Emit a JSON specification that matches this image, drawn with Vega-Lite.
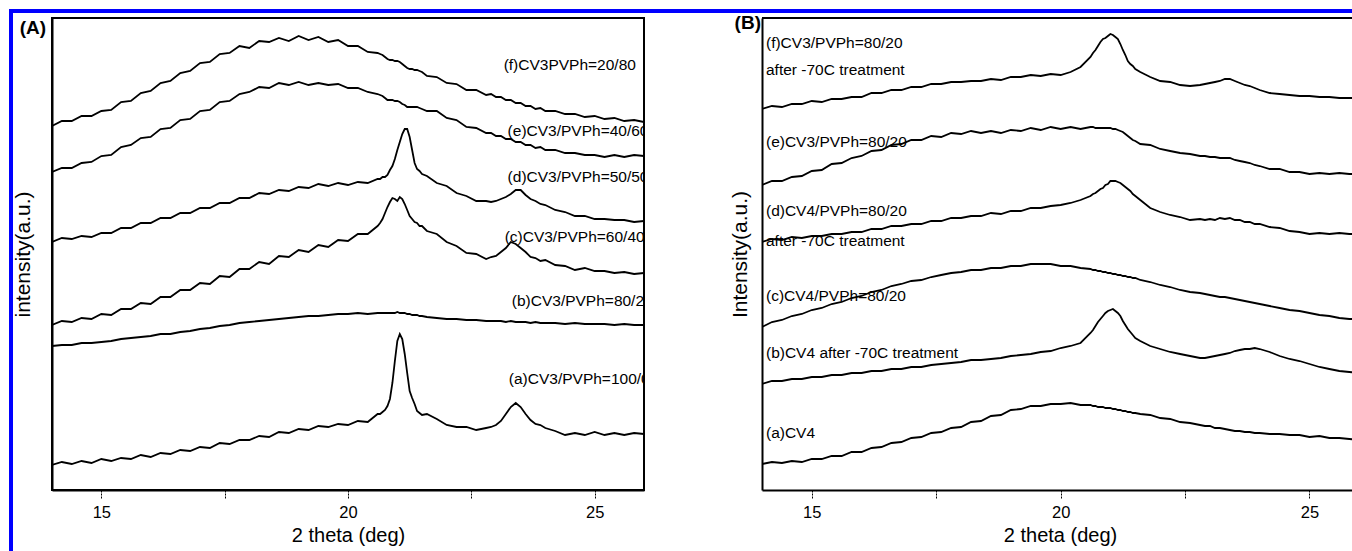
{
 "$schema": "https://vega.github.io/schema/vega-lite/v6.json",
 "background": "white",
 "padding": {"left": 8, "top": 8, "right": 0, "bottom": 0},
 "config": {
  "font": "Liberation Sans",
  "view": {"stroke": null},
  "axis": {"grid": false, "labelColor": "black", "titleColor": "black", "domainColor": "black", "tickColor": "black", "labelFont": "Liberation Sans", "titleFont": "Liberation Sans", "titleFontWeight": "normal"}
 },
 "datasets": {
  "A": [
   {"x":14.0,"a":25,"b":144,"c":165,"d":248,"e":318,"f":364},
   {"x":14.2,"a":28,"b":145,"c":169,"d":252,"e":322,"f":369},
   {"x":14.4,"a":26,"b":145,"c":168,"d":251,"e":322,"f":369},
   {"x":14.6,"a":29,"b":147,"c":172,"d":254,"e":327,"f":374},
   {"x":14.8,"a":27,"b":147,"c":171,"d":253,"e":328,"f":374},
   {"x":15.0,"a":31,"b":148,"c":176,"d":257,"e":334,"f":379},
   {"x":15.2,"a":29,"b":149,"c":175,"d":257,"e":335,"f":380},
   {"x":15.4,"a":32,"b":151,"c":181,"d":262,"e":343,"f":388},
   {"x":15.6,"a":31,"b":152,"c":181,"d":262,"e":345,"f":389},
   {"x":15.8,"a":35,"b":153,"c":187,"d":267,"e":352,"f":397},
   {"x":16.0,"a":33,"b":154,"c":186,"d":267,"e":353,"f":399},
   {"x":16.2,"a":37,"b":156,"c":193,"d":272,"e":361,"f":407},
   {"x":16.4,"a":36,"b":156,"c":193,"d":272,"e":362,"f":409},
   {"x":16.6,"a":40,"b":158,"c":200,"d":277,"e":370,"f":417},
   {"x":16.8,"a":39,"b":159,"c":200,"d":277,"e":371,"f":419},
   {"x":17.0,"a":43,"b":161,"c":207,"d":282,"e":379,"f":427},
   {"x":17.2,"a":42,"b":162,"c":206,"d":282,"e":380,"f":428},
   {"x":17.4,"a":47,"b":164,"c":214,"d":287,"e":388,"f":436},
   {"x":17.6,"a":46,"b":165,"c":213,"d":287,"e":389,"f":437},
   {"x":17.8,"a":50,"b":167,"c":221,"d":292,"e":396,"f":444},
   {"x":18.0,"a":50,"b":168,"c":221,"d":292,"e":398,"f":442},
   {"x":18.2,"a":54,"b":169,"c":228,"d":297,"e":403,"f":449},
   {"x":18.4,"a":53,"b":170,"c":226,"d":296,"e":402,"f":448},
   {"x":18.6,"a":58,"b":171,"c":234,"d":300,"e":407,"f":452},
   {"x":18.8,"a":57,"b":172,"c":233,"d":299,"e":405,"f":449},
   {"x":19.0,"a":61,"b":173,"c":240,"d":303,"e":408,"f":454},
   {"x":19.2,"a":60,"b":174,"c":238,"d":302,"e":405,"f":450},
   {"x":19.4,"a":64,"b":174,"c":245,"d":306,"e":407,"f":453},
   {"x":19.6,"a":63,"b":175,"c":243,"d":304,"e":405,"f":448},
   {"x":19.8,"a":66,"b":176,"c":250,"d":307,"e":406,"f":450},
   {"x":20.0,"a":65,"b":176,"c":249,"d":305,"e":402,"f":444},
   {"x":20.2,"a":69,"b":177,"c":256,"d":308,"e":402,"f":444},
   {"x":20.4,"a":68,"b":176,"c":256,"d":307,"e":398,"f":438},
   {"x":20.6,"a":76,"b":177,"c":264,"d":311,"e":396,"f":437},
   {"x":20.65,"a":76,"b":177,"c":267,"d":311,"e":395,"f":436},
   {"x":20.7,"a":78,"b":177,"c":271,"d":313,"e":394,"f":435},
   {"x":20.75,"a":80,"b":177,"c":277,"d":313,"e":392,"f":433},
   {"x":20.8,"a":84,"b":177,"c":283,"d":315,"e":390,"f":431},
   {"x":20.85,"a":91,"b":177,"c":288,"d":320,"e":390,"f":430},
   {"x":20.9,"a":107,"b":177,"c":292,"d":324,"e":390,"f":430},
   {"x":20.95,"a":129,"b":177,"c":291,"d":331,"e":389,"f":429},
   {"x":21.0,"a":149,"b":178,"c":289,"d":340,"e":389,"f":429},
   {"x":21.05,"a":156,"b":177,"c":293,"d":348,"e":388,"f":428},
   {"x":21.1,"a":151,"b":177,"c":291,"d":356,"e":386,"f":426},
   {"x":21.15,"a":136,"b":177,"c":286,"d":361,"e":385,"f":424},
   {"x":21.2,"a":117,"b":176,"c":280,"d":361,"e":383,"f":422},
   {"x":21.25,"a":99,"b":176,"c":274,"d":353,"e":383,"f":421},
   {"x":21.3,"a":92,"b":175,"c":271,"d":340,"e":383,"f":421},
   {"x":21.35,"a":86,"b":175,"c":268,"d":327,"e":383,"f":420},
   {"x":21.4,"a":79,"b":175,"c":267,"d":321,"e":383,"f":420},
   {"x":21.45,"a":77,"b":174,"c":264,"d":319,"e":382,"f":419},
   {"x":21.5,"a":75,"b":174,"c":264,"d":316,"e":381,"f":418},
   {"x":21.6,"a":76,"b":173,"c":259,"d":314,"e":379,"f":414},
   {"x":21.8,"a":71,"b":172,"c":256,"d":307,"e":379,"f":413},
   {"x":22.0,"a":65,"b":171,"c":248,"d":304,"e":372,"f":407},
   {"x":22.2,"a":63,"b":171,"c":244,"d":297,"e":370,"f":406},
   {"x":22.4,"a":63,"b":170,"c":237,"d":294,"e":363,"f":400},
   {"x":22.6,"a":60,"b":170,"c":236,"d":289,"e":362,"f":400},
   {"x":22.8,"a":62,"b":169,"c":231,"d":289,"e":357,"f":395},
   {"x":22.9,"a":63,"b":169,"c":233,"d":288,"e":357,"f":396},
   {"x":23.0,"a":65,"b":169,"c":234,"d":289,"e":354,"f":393},
   {"x":23.1,"a":69,"b":169,"c":238,"d":291,"e":354,"f":393},
   {"x":23.2,"a":76,"b":168,"c":242,"d":293,"e":351,"f":390},
   {"x":23.3,"a":83,"b":169,"c":248,"d":296,"e":351,"f":390},
   {"x":23.4,"a":87,"b":168,"c":246,"d":300,"e":348,"f":387},
   {"x":23.5,"a":83,"b":168,"c":242,"d":300,"e":348,"f":387},
   {"x":23.6,"a":76,"b":168,"c":238,"d":295,"e":345,"f":384},
   {"x":23.7,"a":70,"b":167,"c":233,"d":291,"e":345,"f":384},
   {"x":23.8,"a":66,"b":168,"c":232,"d":289,"e":342,"f":381},
   {"x":23.9,"a":65,"b":167,"c":229,"d":286,"e":343,"f":382},
   {"x":24.0,"a":62,"b":167,"c":230,"d":285,"e":340,"f":379},
   {"x":24.2,"a":59,"b":167,"c":225,"d":280,"e":340,"f":379},
   {"x":24.4,"a":55,"b":166,"c":224,"d":278,"e":337,"f":376},
   {"x":24.6,"a":57,"b":167,"c":220,"d":274,"e":337,"f":376},
   {"x":24.8,"a":55,"b":166,"c":222,"d":274,"e":335,"f":373},
   {"x":25.0,"a":58,"b":166,"c":219,"d":271,"e":335,"f":374},
   {"x":25.2,"a":55,"b":166,"c":219,"d":271,"e":333,"f":371},
   {"x":25.4,"a":57,"b":165,"c":217,"d":270,"e":335,"f":372},
   {"x":25.6,"a":55,"b":166,"c":218,"d":270,"e":333,"f":369},
   {"x":25.8,"a":57,"b":165,"c":216,"d":268,"e":335,"f":370},
   {"x":26.0,"a":56,"b":165,"c":217,"d":269,"e":334,"f":368}
  ],
  "B": [
   {"x":14.0,"a":26,"b":106,"c":163,"d":248,"e":305,"f":381},
   {"x":14.2,"a":28,"b":109,"c":168,"d":251,"e":309,"f":384},
   {"x":14.4,"a":27,"b":109,"c":170,"d":250,"e":309,"f":383},
   {"x":14.6,"a":29,"b":111,"c":174,"d":253,"e":313,"f":386},
   {"x":14.8,"a":28,"b":111,"c":176,"d":252,"e":314,"f":386},
   {"x":15.0,"a":31,"b":113,"c":180,"d":254,"e":319,"f":389},
   {"x":15.2,"a":31,"b":113,"c":182,"d":254,"e":320,"f":388},
   {"x":15.4,"a":34,"b":115,"c":186,"d":256,"e":326,"f":391},
   {"x":15.6,"a":34,"b":115,"c":188,"d":256,"e":327,"f":391},
   {"x":15.8,"a":38,"b":117,"c":192,"d":258,"e":332,"f":393},
   {"x":16.0,"a":38,"b":117,"c":194,"d":258,"e":334,"f":393},
   {"x":16.2,"a":42,"b":119,"c":198,"d":261,"e":339,"f":397},
   {"x":16.4,"a":43,"b":119,"c":200,"d":261,"e":340,"f":397},
   {"x":16.6,"a":47,"b":121,"c":204,"d":264,"e":345,"f":400},
   {"x":16.8,"a":48,"b":121,"c":206,"d":264,"e":346,"f":400},
   {"x":17.0,"a":52,"b":123,"c":209,"d":266,"e":350,"f":403},
   {"x":17.2,"a":53,"b":123,"c":210,"d":266,"e":350,"f":403},
   {"x":17.4,"a":57,"b":125,"c":213,"d":269,"e":354,"f":406},
   {"x":17.6,"a":58,"b":126,"c":215,"d":269,"e":353,"f":406},
   {"x":17.8,"a":62,"b":127,"c":217,"d":272,"e":357,"f":408},
   {"x":18.0,"a":63,"b":128,"c":218,"d":272,"e":356,"f":408},
   {"x":18.2,"a":68,"b":130,"c":220,"d":274,"e":359,"f":409},
   {"x":18.4,"a":69,"b":130,"c":220,"d":274,"e":357,"f":409},
   {"x":18.6,"a":74,"b":131,"c":222,"d":277,"e":359,"f":411},
   {"x":18.8,"a":75,"b":132,"c":222,"d":276,"e":357,"f":410},
   {"x":19.0,"a":80,"b":134,"c":224,"d":279,"e":360,"f":413},
   {"x":19.2,"a":81,"b":135,"c":224,"d":279,"e":359,"f":413},
   {"x":19.4,"a":84,"b":136,"c":226,"d":282,"e":362,"f":415},
   {"x":19.6,"a":84,"b":138,"c":226,"d":282,"e":360,"f":414},
   {"x":19.8,"a":86,"b":139,"c":226,"d":284,"e":363,"f":416},
   {"x":20.0,"a":86,"b":142,"c":224,"d":285,"e":361,"f":415},
   {"x":20.2,"a":87,"b":144,"c":224,"d":287,"e":363,"f":418},
   {"x":20.4,"a":85,"b":147,"c":222,"d":290,"e":361,"f":423},
   {"x":20.6,"a":85,"b":157,"c":221,"d":294,"e":363,"f":433},
   {"x":20.65,"a":84,"b":160,"c":220,"d":296,"e":363,"f":437},
   {"x":20.7,"a":84,"b":164,"c":220,"d":297,"e":362,"f":440},
   {"x":20.75,"a":83,"b":168,"c":219,"d":299,"e":362,"f":444},
   {"x":20.8,"a":83,"b":171,"c":219,"d":301,"e":362,"f":448},
   {"x":20.85,"a":83,"b":174,"c":218,"d":302,"e":362,"f":451},
   {"x":20.9,"a":82,"b":177,"c":218,"d":305,"e":362,"f":452},
   {"x":20.95,"a":82,"b":179,"c":217,"d":306,"e":362,"f":454},
   {"x":21.0,"a":82,"b":180,"c":217,"d":309,"e":362,"f":456},
   {"x":21.05,"a":81,"b":181,"c":216,"d":309,"e":361,"f":455},
   {"x":21.1,"a":81,"b":179,"c":216,"d":309,"e":361,"f":453},
   {"x":21.15,"a":80,"b":177,"c":215,"d":308,"e":360,"f":451},
   {"x":21.2,"a":80,"b":174,"c":215,"d":307,"e":359,"f":446},
   {"x":21.25,"a":79,"b":169,"c":214,"d":305,"e":358,"f":440},
   {"x":21.3,"a":79,"b":165,"c":214,"d":303,"e":356,"f":435},
   {"x":21.35,"a":78,"b":161,"c":213,"d":301,"e":354,"f":429},
   {"x":21.4,"a":78,"b":158,"c":213,"d":299,"e":352,"f":426},
   {"x":21.45,"a":77,"b":155,"c":212,"d":296,"e":350,"f":424},
   {"x":21.5,"a":77,"b":152,"c":212,"d":294,"e":349,"f":421},
   {"x":21.6,"a":76,"b":149,"c":210,"d":290,"e":346,"f":418},
   {"x":21.8,"a":75,"b":144,"c":208,"d":282,"e":345,"f":413},
   {"x":22.0,"a":72,"b":141,"c":205,"d":278,"e":341,"f":409},
   {"x":22.2,"a":71,"b":138,"c":203,"d":275,"e":339,"f":408},
   {"x":22.4,"a":68,"b":136,"c":200,"d":273,"e":337,"f":405},
   {"x":22.6,"a":67,"b":134,"c":198,"d":270,"e":336,"f":404},
   {"x":22.8,"a":65,"b":132,"c":197,"d":271,"e":334,"f":405},
   {"x":22.9,"a":64,"b":132,"c":196,"d":270,"e":334,"f":406},
   {"x":23.0,"a":64,"b":133,"c":195,"d":271,"e":333,"f":407},
   {"x":23.1,"a":62,"b":134,"c":194,"d":270,"e":333,"f":408},
   {"x":23.2,"a":62,"b":135,"c":193,"d":272,"e":332,"f":409},
   {"x":23.3,"a":61,"b":136,"c":193,"d":271,"e":332,"f":411},
   {"x":23.4,"a":60,"b":137,"c":192,"d":272,"e":332,"f":411},
   {"x":23.5,"a":59,"b":139,"c":191,"d":270,"e":330,"f":409},
   {"x":23.6,"a":59,"b":140,"c":190,"d":270,"e":329,"f":407},
   {"x":23.7,"a":58,"b":141,"c":189,"d":268,"e":328,"f":405},
   {"x":23.8,"a":58,"b":141,"c":188,"d":268,"e":327,"f":404},
   {"x":23.9,"a":57,"b":142,"c":187,"d":266,"e":325,"f":402},
   {"x":24.0,"a":57,"b":141,"c":186,"d":266,"e":324,"f":400},
   {"x":24.2,"a":56,"b":138,"c":184,"d":263,"e":321,"f":397},
   {"x":24.4,"a":56,"b":134,"c":182,"d":262,"e":321,"f":396},
   {"x":24.6,"a":55,"b":131,"c":180,"d":259,"e":318,"f":395},
   {"x":24.8,"a":55,"b":129,"c":179,"d":258,"e":318,"f":394},
   {"x":25.0,"a":53,"b":126,"c":177,"d":256,"e":316,"f":394},
   {"x":25.2,"a":54,"b":123,"c":175,"d":257,"e":317,"f":393},
   {"x":25.4,"a":52,"b":121,"c":174,"d":256,"e":316,"f":393},
   {"x":25.6,"a":52,"b":119,"c":172,"d":257,"e":317,"f":392},
   {"x":25.8,"a":51,"b":118,"c":171,"d":256,"e":316,"f":392},
   {"x":26.0,"a":50,"b":117,"c":171,"d":256,"e":316,"f":392}
  ],
  "LA": [
   {"x":23.155,"y":425,"label":"(f)CV3PVPh=20/80"},
   {"x":23.235,"y":359,"label":"(e)CV3/PVPh=40/60"},
   {"x":23.235,"y":313,"label":"(d)CV3/PVPh=50/50"},
   {"x":23.175,"y":253,"label":"(c)CV3/PVPh=60/40"},
   {"x":23.32,"y":189,"label":"(b)CV3/PVPh=80/20"},
   {"x":23.26,"y":111,"label":"(a)CV3/PVPh=100/0"}
  ],
  "LB": [
   {"x":14.08,"y":447,"label":"(f)CV3/PVPh=80/20"},
   {"x":14.08,"y":420,"label":"after -70C treatment"},
   {"x":14.08,"y":348,"label":"(e)CV3/PVPh=80/20"},
   {"x":14.08,"y":279,"label":"(d)CV4/PVPh=80/20"},
   {"x":14.08,"y":249,"label":"after -70C treatment"},
   {"x":14.08,"y":194,"label":"(c)CV4/PVPh=80/20"},
   {"x":14.08,"y":137,"label":"(b)CV4 after -70C treatment"},
   {"x":14.08,"y":57,"label":"(a)CV4"}
  ],
  "PA": [{"x": 13.88, "y": 472, "t": "(A)"}],
  "PB": [{"x": 13.98, "y": 472, "t": "(B)"}]
 },
 "hconcat": [
  {"width": 4, "height": 543, "data": {"values": [{}]}, "mark": {"type": "point", "opacity": 0}, "encoding": {}, "view": {"fill": "#0000ff", "stroke": null}},
  {"vconcat": [
    {"width": 1340, "height": 4, "data": {"values": [{}]}, "mark": {"type": "point", "opacity": 0}, "encoding": {}, "view": {"fill": "#0000ff", "stroke": null}},
    {"hconcat": [
      {"width": 39, "height": 472, "data": {"values": [{}]}, "mark": {"type": "point", "opacity": 0}, "encoding": {}},
      {
       "width": 592, "height": 472,
       "view": {"stroke": "black", "strokeWidth": 2},
       "layer": [
        {"data": {"name": "A"},
         "transform": [{"fold": ["a","b","c","d","e","f"], "as": ["series","y"]}],
         "mark": {"type": "line", "color": "black", "strokeWidth": 1.8, "clip": true},
         "encoding": {
          "x": {"field": "x", "type": "quantitative", "scale": {"domain": [14, 26], "nice": false, "zero": false},
                "axis": {"title": "2 theta (deg)", "values": [15, 17.5, 20, 22.5, 25], "labelExpr": "datum.value % 5 === 0 ? datum.label : ''", "tickSize": 8, "tickWidth": 1, "tickDash": [2, 1], "domainWidth": 2, "labelFontSize": 16.5, "labelPadding": 6, "titleFontSize": 20, "titlePadding": 5}},
          "y": {"field": "y", "type": "quantitative", "scale": {"domain": [0, 472], "nice": false, "zero": false},
                "axis": {"title": "intensity(a.u.)", "ticks": false, "labels": false, "domainWidth": 2, "titleFontSize": 21, "titlePadding": 19}},
          "detail": {"field": "series", "type": "nominal"}
         }},
        {"data": {"name": "LA"},
         "mark": {"type": "text", "align": "left", "baseline": "middle", "fontSize": 15.5, "color": "black", "clip": true},
         "encoding": {
          "x": {"field": "x", "type": "quantitative"},
          "y": {"field": "y", "type": "quantitative"},
          "text": {"field": "label", "type": "nominal"}
         }},
        {"data": {"name": "PA"},
         "mark": {"type": "text", "align": "right", "baseline": "top", "fontSize": 19, "fontWeight": "bold", "color": "black", "dy": 1},
         "encoding": {
          "x": {"field": "x", "type": "quantitative"},
          "y": {"field": "y", "type": "quantitative"},
          "text": {"field": "t", "type": "nominal"}
         }}
       ]
      },
      {"width": 118, "height": 472, "data": {"values": [{}]}, "mark": {"type": "point", "opacity": 0}, "encoding": {}},
      {
       "width": 591, "height": 472,
       "view": {"stroke": null},
       "layer": [
        {"data": {"name": "B"},
         "transform": [{"fold": ["a","b","c","d","e","f"], "as": ["series","y"]}],
         "mark": {"type": "line", "color": "black", "strokeWidth": 1.8, "clip": true},
         "encoding": {
          "x": {"field": "x", "type": "quantitative", "scale": {"domain": [14, 25.874], "nice": false, "zero": false},
                "axis": {"title": "2 theta (deg)", "values": [15, 17.5, 20, 22.5, 25], "labelExpr": "datum.value % 5 === 0 ? datum.label : ''", "tickSize": 8, "tickWidth": 1, "tickDash": [2, 1], "domainWidth": 2, "labelFontSize": 16.5, "labelPadding": 6, "titleFontSize": 20, "titlePadding": 5, "titleX": 298}},
          "y": {"field": "y", "type": "quantitative", "scale": {"domain": [0, 472], "nice": false, "zero": false},
                "axis": {"title": "Intensity(a.u.)", "ticks": false, "labels": false, "domainWidth": 2, "titleFontSize": 21, "titlePadding": 12}},
          "detail": {"field": "series", "type": "nominal"}
         }},
        {"data": {"name": "LB"},
         "mark": {"type": "text", "align": "left", "baseline": "middle", "fontSize": 15.5, "color": "black", "clip": true},
         "encoding": {
          "x": {"field": "x", "type": "quantitative"},
          "y": {"field": "y", "type": "quantitative"},
          "text": {"field": "label", "type": "nominal"}
         }},
        {"data": {"name": "PB"},
         "mark": {"type": "text", "align": "right", "baseline": "top", "fontSize": 19, "fontWeight": "bold", "color": "black", "dy": -4},
         "encoding": {
          "x": {"field": "x", "type": "quantitative"},
          "y": {"field": "y", "type": "quantitative"},
          "text": {"field": "t", "type": "nominal"}
         }},
        {"data": {"values": [{}]},
         "mark": {"type": "rule", "color": "black", "strokeWidth": 2},
         "encoding": {"y": {"datum": 472}}}
       ]
      }
    ], "spacing": 0, "bounds": "flush"}
  ], "spacing": 5, "bounds": "flush"}
 ],
 "spacing": 0, "bounds": "flush"
}
